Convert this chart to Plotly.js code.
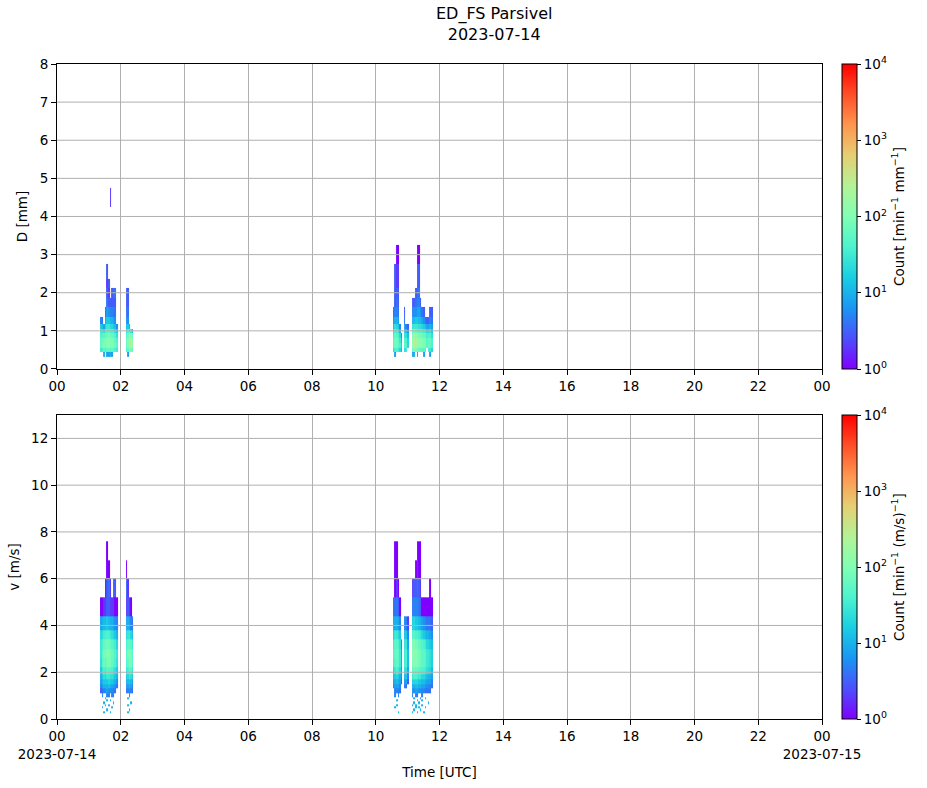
<!DOCTYPE html>
<html><head><meta charset="utf-8">
<script src="https://cdn.plot.ly/plotly-3.0.1.min.js"></script>
<style>html,body{margin:0;padding:0;background:#fff}#chart{width:927px;height:788px}</style>
</head><body><div id="chart"></div>
<script>
// ---------------- data ----------------
const chartTitle = 'ED_FS Parsivel';
const chartDate = '2023-07-14';
const nextDate = '2023-07-15';
const segStart = ['01:21', '02:09', '10:32'];   // start time of each rain segment
const stepMinutes = 3;                          // column width (minutes)

// Parsivel class bin edges used by the plot
const dEdges = [0.312, 0.437, 0.562, 0.687, 0.812, 0.937, 1.062, 1.187, 1.375, 1.625, 1.875, 2.125, 2.375, 2.75, 3.25, 3.75, 4.25, 4.75];
const vEdges = [0.25, 0.35, 0.45, 0.55, 0.65, 0.75, 0.85, 0.95, 1.1, 1.3, 1.5, 1.7, 1.9, 2.2, 2.6, 3.0, 3.4, 3.8, 4.4, 5.2, 6.0, 6.8, 7.6];

// counts per column (lowest bin first), diameter panel
const dSeg1 = [
  [0, 30, 60, 60, 40, 30, 15, 5],
  [0, 40, 80, 70, 50, 30, 12, 4],
  [10, 50, 90, 80, 50, 25, 8],
  [0, 40, 80, 90, 60, 40, 20, 8, 3],
  [8, 60, 100, 100, 70, 50, 30, 15, 8, 4, 3, 2, 3],
  [8, 60, 120, 110, 80, 50, 30, 15, 6, 3, 2, 3],
  [10, 50, 90, 90, 70, 40, 20, 10, 5, 3, 0, 0, 0, 0, 0, 0, 2],
  [8, 60, 100, 90, 60, 40, 20, 10, 5, 3, 3],
  [0, 50, 90, 90, 60, 35, 15, 8, 4, 3, 4],
  [0, 40, 70, 60, 40, 25, 12, 6, 4, 3, 4],
  [0, 30, 50, 40, 25, 15, 6]
];
const dSeg2 = [
  [0, 40, 60, 60, 40, 25, 12, 6, 4, 3, 3],
  [8, 60, 100, 100, 70, 40, 15, 6, 4, 3, 3],
  [0, 100, 200, 200, 120, 50, 10],
  [0, 80, 250, 200, 100, 30],
  [0, 60, 150, 120, 60, 15]
];
const dSeg3 = [
  [0, 20, 40, 40, 30, 20, 10, 5, 3],
  [8, 40, 80, 80, 60, 40, 25, 10, 5, 3, 3, 3, 3],
  [0, 40, 70, 70, 50, 35, 20, 10, 5, 4, 3, 2, 2, 1],
  [0, 30, 50, 50, 40, 25, 15, 8, 4, 3, 3, 2, 2, 1],
  [0, 20, 40, 30, 20, 10, 5],
  [0, 10, 15, 10, 5],
  [],
  [0, 20, 40, 40, 25, 15, 8, 4, 3],
  [0, 30, 50, 40, 25, 12, 5],
  [0, 0, 20, 20, 12, 6, 3],
  [],
  [],
  [8, 60, 120, 120, 80, 50, 25, 10, 5, 3],
  [10, 100, 250, 250, 150, 80, 30, 12, 6, 3],
  [0, 80, 200, 200, 120, 70, 30, 15, 6, 4, 3],
  [8, 80, 150, 150, 100, 60, 30, 15, 8, 5, 4, 3, 3, 1],
  [0, 60, 120, 120, 80, 50, 25, 12, 8, 5, 4, 3, 3, 1],
  [0, 60, 120, 120, 80, 50, 25, 12, 6, 3],
  [0, 50, 100, 100, 70, 40, 20, 8, 4],
  [8, 50, 90, 90, 60, 35, 15, 6, 3],
  [0, 40, 80, 80, 50, 30, 12, 4],
  [0, 0, 50, 50, 35, 20, 8, 3],
  [0, 30, 60, 60, 40, 20, 8, 3],
  [8, 30, 60, 60, 40, 25, 10, 5, 3],
  [0, 20, 40, 40, 25, 15, 8, 4, 3]
];

// counts per column (lowest bin first), velocity panel
const vSeg1 = [
  [0, 0, 0, 0, 0, 0, 0, 0, 3, 5, 8, 10, 15, 25, 30, 30, 20, 8, 1],
  [0, 0, 10, 0, 0, 0, 0, 5, 4, 8, 10, 15, 30, 50, 50, 40, 25, 10, 1],
  [10, 0, 0, 0, 10, 0, 0, 0, 5, 10, 15, 25, 40, 70, 80, 60, 35, 12, 2],
  [0, 0, 0, 10, 0, 0, 10, 0, 6, 10, 15, 20, 35, 60, 80, 70, 40, 12, 2, 1],
  [0, 10, 0, 0, 0, 10, 0, 5, 8, 10, 15, 30, 50, 80, 100, 80, 40, 15, 3, 3, 1, 1],
  [0, 0, 0, 10, 0, 0, 0, 5, 6, 12, 20, 30, 50, 90, 100, 70, 40, 12, 3, 4, 1],
  [10, 0, 0, 0, 0, 10, 0, 0, 6, 10, 15, 25, 45, 80, 80, 60, 30, 10, 2, 2],
  [0, 0, 10, 0, 0, 0, 0, 5, 5, 8, 15, 25, 40, 60, 70, 50, 25, 10, 2],
  [0, 0, 0, 0, 10, 0, 0, 5, 5, 8, 12, 20, 30, 50, 60, 40, 20, 8, 2, 3],
  [0, 0, 0, 0, 0, 0, 0, 0, 4, 6, 10, 15, 25, 40, 45, 35, 15, 6, 1, 3],
  [0, 0, 0, 0, 0, 0, 0, 0, 0, 4, 6, 10, 15, 25, 30, 20, 10, 5, 1]
];
const vSeg2 = [
  [0, 0, 0, 0, 0, 0, 0, 0, 4, 6, 10, 15, 25, 40, 45, 35, 20, 8, 2, 3, 1],
  [10, 0, 0, 10, 0, 0, 10, 0, 5, 8, 12, 20, 40, 60, 80, 60, 30, 10, 3, 2],
  [0, 10, 0, 0, 0, 0, 0, 5, 6, 10, 15, 30, 60, 100, 100, 60, 30, 8, 2],
  [0, 0, 0, 0, 10, 0, 0, 0, 5, 8, 12, 25, 50, 80, 80, 50, 20, 5, 1],
  [0, 0, 0, 0, 0, 0, 0, 0, 4, 5, 8, 15, 30, 50, 50, 30, 12, 4]
];
const vSeg3 = [
  [0, 0, 0, 0, 0, 0, 0, 0, 0, 4, 6, 10, 15, 30, 40, 30, 15, 8, 3],
  [0, 0, 10, 0, 0, 0, 0, 5, 5, 8, 10, 15, 30, 50, 60, 50, 30, 10, 4, 1, 1, 1],
  [0, 0, 0, 10, 0, 10, 0, 0, 5, 8, 12, 20, 40, 60, 70, 50, 30, 10, 4, 2, 1, 1],
  [10, 0, 0, 0, 0, 0, 0, 5, 5, 8, 10, 15, 30, 50, 50, 40, 20, 8, 3, 1],
  [0, 0, 0, 0, 0, 0, 0, 0, 4, 5, 8, 10, 20, 30, 30, 25, 15, 5, 1],
  [0, 0, 0, 0, 0, 0, 0, 0, 0, 0, 3, 5, 6, 8, 8, 5],
  [],
  [0, 0, 0, 0, 0, 0, 0, 0, 0, 4, 6, 10, 20, 30, 30, 25, 12, 5],
  [0, 0, 0, 0, 0, 0, 0, 0, 0, 4, 8, 15, 25, 40, 40, 30, 15, 5],
  [0, 0, 0, 0, 0, 0, 0, 0, 0, 0, 3, 5, 8, 12, 12, 8, 5, 2],
  [],
  [],
  [10, 0, 0, 10, 0, 0, 0, 5, 6, 10, 15, 30, 50, 80, 100, 80, 40, 15, 4, 2],
  [0, 10, 0, 0, 10, 0, 10, 0, 6, 10, 20, 40, 70, 120, 130, 100, 50, 20, 5, 3],
  [0, 0, 10, 10, 0, 0, 0, 5, 8, 12, 20, 40, 60, 100, 110, 80, 40, 15, 5, 3, 1],
  [10, 0, 0, 0, 0, 10, 0, 5, 8, 12, 20, 35, 60, 100, 100, 80, 40, 15, 5, 4, 2, 1],
  [0, 0, 10, 0, 10, 0, 0, 0, 6, 10, 15, 30, 50, 80, 80, 60, 35, 12, 4, 3, 1, 1],
  [0, 10, 0, 0, 0, 0, 5, 0, 6, 10, 15, 30, 45, 70, 70, 55, 30, 10, 3, 2, 1, 1],
  [0, 0, 0, 10, 0, 10, 0, 5, 5, 8, 12, 20, 40, 55, 55, 45, 20, 8, 1],
  [10, 0, 0, 0, 0, 0, 0, 0, 5, 8, 12, 20, 40, 55, 55, 40, 15, 6, 1],
  [0, 0, 10, 0, 0, 0, 10, 0, 4, 6, 10, 15, 30, 45, 45, 30, 12, 5, 1],
  [0, 0, 0, 0, 0, 0, 0, 0, 4, 6, 8, 12, 25, 30, 30, 20, 10, 4, 1],
  [0, 0, 0, 0, 10, 0, 0, 0, 4, 5, 8, 10, 20, 30, 30, 20, 10, 4, 1],
  [0, 0, 0, 0, 0, 0, 0, 0, 4, 5, 8, 10, 20, 25, 25, 15, 8, 4, 1, 1],
  [0, 0, 0, 0, 0, 0, 0, 0, 0, 4, 5, 8, 12, 18, 18, 12, 6, 3, 1]
];

const hourValues = [0, 2, 4, 6, 8, 10, 12, 14, 16, 18, 20, 22, 24];
const hourLabels = ['00', '02', '04', '06', '08', '10', '12', '14', '16', '18', '20', '22', '00'];
const dTicks = [0, 1, 2, 3, 4, 5, 6, 7, 8];
const vTicks = [0, 2, 4, 6, 8, 10, 12];
const countExp = [0, 1, 2, 3, 4];

// ---------------- helpers ----------------
const [YY, MM, DD] = chartDate.split('-').map(Number);
const base = Date.UTC(YY, MM - 1, DD);
const pad = n => String(n).padStart(2, '0');
function stamp(min) {
  const d = new Date(base + min * 60000);
  return d.getUTCFullYear() + '-' + pad(d.getUTCMonth() + 1) + '-' + pad(d.getUTCDate()) + ' ' + pad(d.getUTCHours()) + ':' + pad(d.getUTCMinutes());
}
function toMin(s) { const [h, m] = s.split(':').map(Number); return h * 60 + m; }
function buildGrid(segs, nRows) {
  const edges = [], cols = [];
  segs.forEach((seg, k) => {
    const t0 = toMin(segStart[k]);
    if (k > 0) cols.push(null);
    for (let i = 0; i <= seg.length; i++) edges.push(stamp(t0 + i * stepMinutes));
    seg.forEach(c => cols.push(c));
  });
  const z = [];
  for (let r = 0; r < nRows; r++) z.push(cols.map(c => (c && c[r] > 0) ? Math.log10(c[r]) : null));
  return { x: edges, z };
}

const rainbow = [[0, 'rgb(128,0,255)'], [0.1, 'rgb(77,79,252)'], [0.2, 'rgb(26,150,243)'], [0.3, 'rgb(26,206,227)'],
  [0.4, 'rgb(77,243,206)'], [0.5, 'rgb(128,255,180)'], [0.6, 'rgb(179,243,150)'], [0.7, 'rgb(230,206,116)'],
  [0.8, 'rgb(255,150,79)'], [0.9, 'rgb(255,79,40)'], [1, 'rgb(255,0,0)']];

const gD = buildGrid([dSeg1, dSeg2, dSeg3], dEdges.length - 1);
const gV = buildGrid([vSeg1, vSeg2, vSeg3], vEdges.length - 1);

const topDom = [0.5344, 1];
const botDom = [0, 0.4641];
const cbX = 1.0261;
const cbTickText = countExp.map(e => '10<sup>' + e + '</sup>');

function cb(y, len, title) {
  return {
    x: cbX, xanchor: 'left', xpad: 0, y: y, yanchor: 'top', ypad: 0, len: len, lenmode: 'fraction',
    thickness: 15, thicknessmode: 'pixels', outlinecolor: '#000', outlinewidth: 1,
    ticks: 'outside', ticklen: 4, tickcolor: '#000', tickvals: countExp, ticktext: cbTickText,
    tickfont: { size: 13.5, color: '#000' },
    title: { text: title, side: 'right', font: { size: 13.5, color: '#000' } }
  };
}

const traces = [
  { type: 'heatmap', x: gD.x, y: dEdges, z: gD.z, xaxis: 'x', yaxis: 'y', colorscale: rainbow, zmin: 0, zmax: 4,
    hoverinfo: 'skip', colorbar: cb(1, topDom[1] - topDom[0], 'Count [min<sup>−1</sup> mm<sup>−1</sup>]') },
  { type: 'heatmap', x: gV.x, y: vEdges, z: gV.z, xaxis: 'x2', yaxis: 'y2', colorscale: rainbow, zmin: 0, zmax: 4,
    hoverinfo: 'skip', colorbar: cb(botDom[1], botDom[1] - botDom[0], 'Count [min<sup>−1</sup> (m/s)<sup>−1</sup>]') }
];

const tickDates = hourValues.map(h => stamp(h * 60));
const botLabels = hourLabels.map((t, i) => i === 0 ? t + '<br>' + chartDate : (i === hourLabels.length - 1 ? t + '<br>' + nextDate : t));
const xRange = [stamp(0), stamp(24 * 60)];

function xAxis(anchor, labels, title) {
  return {
    type: 'date', anchor: anchor, domain: [0, 1], range: xRange, tickmode: 'array', tickvals: tickDates, ticktext: labels,
    showgrid: true, gridcolor: '#b0b0b0', gridwidth: 1, showline: true, linecolor: '#000', linewidth: 1, mirror: true,
    ticks: 'outside', ticklen: 5, tickwidth: 1, tickcolor: '#000', tickfont: { size: 13.5, color: '#000' },
    zeroline: false, fixedrange: true,
    title: title ? { text: title, font: { size: 13.5, color: '#000' }, standoff: 6 } : undefined
  };
}
function yAxis(anchor, dom, range, ticks, title) {
  return {
    anchor: anchor, domain: dom, range: range, tickmode: 'array', tickvals: ticks, ticktext: ticks.map(String),
    showgrid: false, showline: true, linecolor: '#000', linewidth: 1, mirror: true,
    ticks: 'outside', ticklen: 5, tickwidth: 1, tickcolor: '#000', tickfont: { size: 13.5, color: '#000' },
    zeroline: false, fixedrange: true,
    title: { text: title, font: { size: 13.5, color: '#000' }, standoff: 8 }
  };
}

// horizontal grid lines drawn above the heatmap (as in the reference)
const shapes = [];
dTicks.slice(1, -1).forEach(t => shapes.push({ type: 'line', xref: 'paper', x0: 0, x1: 1, yref: 'y', y0: t, y1: t, layer: 'above', line: { color: '#b0b0b0', width: 1 } }));
vTicks.slice(1).forEach(t => shapes.push({ type: 'line', xref: 'paper', x0: 0, x1: 1, yref: 'y2', y0: t, y1: t, layer: 'above', line: { color: '#b0b0b0', width: 1 } }));

const layout = {
  width: 927, height: 788,
  margin: { l: 57, r: 105, t: 64, b: 69, pad: 0 },
  paper_bgcolor: '#fff', plot_bgcolor: '#fff',
  font: { family: 'DejaVu Sans, sans-serif', size: 13.5, color: '#000' },
  showlegend: false,
  annotations: [{
    text: chartTitle + '<br>' + chartDate, xref: 'paper', yref: 'paper',
    x: (494 - 57) / 765, y: 1 + (64 - 46) / 655, xanchor: 'center', yanchor: 'bottom',
    showarrow: false, font: { size: 16, color: '#000' }
  }],
  xaxis: xAxis('y', hourLabels, null),
  yaxis: yAxis('x', topDom, [0, 8], dTicks, 'D [mm]'),
  xaxis2: xAxis('y2', botLabels, 'Time [UTC]'),
  yaxis2: yAxis('x2', botDom, [0, 13], vTicks, 'v [m/s]'),
  shapes: shapes
};

Plotly.newPlot('chart', traces, layout, { displayModeBar: false, staticPlot: true });
</script>
</body></html>
